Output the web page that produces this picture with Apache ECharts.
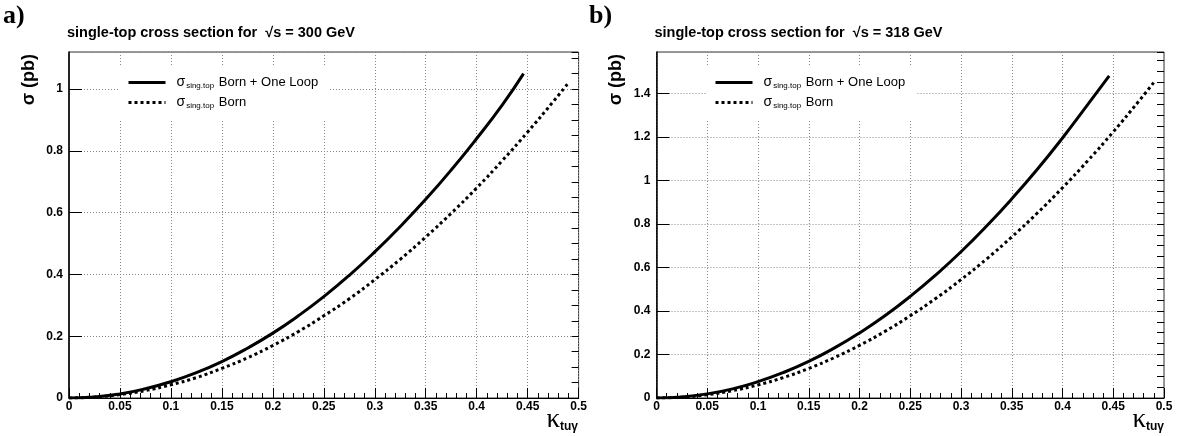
<!DOCTYPE html>
<html>
<head>
<meta charset="utf-8">
<script src="https://cdn.jsdelivr.net/npm/echarts@6/dist/echarts.min.js"></script>
<style>html,body{margin:0;padding:0;background:#fff;}#c{width:1184px;height:436px;}</style>
</head>
<body>
<div id="c"></div>
<script>
// ---- data ----
const kappaLoop = [0, 0.025, 0.05, 0.075, 0.1, 0.125, 0.15, 0.175, 0.2, 0.225, 0.25, 0.275, 0.3, 0.325, 0.35, 0.375, 0.4, 0.425, 0.446];
const kappaBorn = [0, 0.025, 0.05, 0.075, 0.1, 0.125, 0.15, 0.175, 0.2, 0.225, 0.25, 0.275, 0.3, 0.325, 0.35, 0.375, 0.4, 0.425, 0.45, 0.475, 0.49];
const loop300 = [0, 0.003, 0.013, 0.030, 0.053, 0.082, 0.118, 0.161, 0.21, 0.266, 0.328, 0.397, 0.473, 0.555, 0.643, 0.738, 0.84, 0.948, 1.05];
const born300 = [0, 0.003, 0.011, 0.024, 0.043, 0.066, 0.096, 0.130, 0.170, 0.215, 0.266, 0.321, 0.383, 0.449, 0.521, 0.598, 0.680, 0.768, 0.861, 0.959, 1.02];
const loop318 = [0, 0.005, 0.019, 0.042, 0.075, 0.117, 0.168, 0.229, 0.299, 0.378, 0.467, 0.565, 0.672, 0.789, 0.915, 1.05, 1.195, 1.349, 1.48];
const born318 = [0, 0.004, 0.015, 0.034, 0.060, 0.094, 0.136, 0.185, 0.242, 0.306, 0.378, 0.457, 0.544, 0.638, 0.740, 0.849, 0.966, 1.091, 1.223, 1.363, 1.45];
const panelLabels = ['a)', 'b)'];
const panelTitles = ['single-top cross section for  \u221As = 300 GeV', 'single-top cross section for  \u221As = 318 GeV'];
const yMax = [1.12, 1.59];
const legendNames = ['loop', 'born'];
const legendTexts = {loop: 'Born + One Loop', born: 'Born'};

function pairs(xs, ys) { return xs.map((x, i) => [x, ys[i]]); }

const chart = echarts.init(document.getElementById('c'), null, {renderer: 'canvas'});
const sans = 'Liberation Sans';
const gridLeft = [69, 656.5], gridWidth = [509.6, 507.5];
const legLeft = [120, 707];

const grids = [], xAxes = [], yAxes = [], series = [], legends = [], titles = [], graphics = [];
for (let p = 0; p < 2; p++) {
  grids.push({left: gridLeft[p], top: 52, width: gridWidth[p], height: 346, show: true,
    borderColor: '#333', borderWidth: 1, backgroundColor: 'transparent'});
  xAxes.push({type: 'value', gridIndex: p, min: 0, max: 0.5, interval: 0.05,
    axisLine: {show: true, lineStyle: {color: '#000', width: 1.2}},
    axisTick: {show: true, inside: true, length: 10, lineStyle: {color: '#000', width: 1}},
    minorTick: {show: true, splitNumber: 5, length: 5, lineStyle: {color: '#000', width: 1}},
    splitLine: {show: true, lineStyle: {color: '#888', type: [1, 2], width: 1}},
    axisLabel: {fontFamily: sans, fontWeight: 'bold', fontSize: 12, color: '#000', margin: 3}
  });
  yAxes.push({type: 'value', gridIndex: p, min: 0, max: yMax[p], interval: 0.2,
    axisLine: {show: true, lineStyle: {color: '#000', width: 1.5}},
    axisTick: {show: true, inside: true, length: 13, lineStyle: {color: '#000', width: 1}},
    splitLine: {show: true, lineStyle: {color: '#888', type: [1, 2], width: 1}},
    axisLabel: {fontFamily: sans, fontWeight: 'bold', fontSize: 12, color: '#000', margin: 6, showMaxLabel: false}
  });
  yAxes.push({type: 'value', gridIndex: p, min: 0, max: yMax[p], interval: 0.05,
    axisLine: {show: false}, axisLabel: {show: false}, splitLine: {show: false},
    axisTick: {show: true, inside: true, length: 7, lineStyle: {color: '#000', width: 1}}
  });
  const loop = p === 0 ? loop300 : loop318;
  const born = p === 0 ? born300 : born318;
  series.push({name: 'loop', type: 'line', xAxisIndex: p, yAxisIndex: 2 * p, smooth: true, symbol: 'none',
    data: pairs(kappaLoop, loop), lineStyle: {color: '#000', width: 3}, itemStyle: {color: '#000'}, z: 3});
  series.push({name: 'born', type: 'line', xAxisIndex: p, yAxisIndex: 2 * p, smooth: true, symbol: 'none',
    data: pairs(kappaBorn, born), lineStyle: {color: '#000', width: 3, type: [3, 3]}, itemStyle: {color: '#000'}, z: 3});
  legends.push({data: legendNames, orient: 'vertical', left: legLeft[p], top: 67,
    padding: [8, 11, 9, 7], itemGap: 5, itemWidth: 37, itemHeight: 14, backgroundColor: '#fff',
    selectedMode: false,
    itemStyle: {color: 'rgba(0,0,0,0)', borderColor: 'rgba(0,0,0,0)', borderWidth: 0},
    lineStyle: {color: '#000', width: 3},
    formatter: n => '{s|\u03C3}{sub|sing.top}{t| ' + legendTexts[n] + '}',
    textStyle: {color: '#000', rich: {
      s: {fontFamily: sans, fontSize: 14, lineHeight: 16, padding: [0, 0, 0, 6], verticalAlign: 'middle'},
      sub: {fontFamily: sans, fontSize: 8, lineHeight: 16, padding: [7, 1, 0, 1], verticalAlign: 'middle'},
      t: {fontFamily: sans, fontSize: 13, lineHeight: 16, verticalAlign: 'middle'}
    }}
  });
  titles.push({text: panelTitles[p], left: gridLeft[p] - 7, top: 20,
    textStyle: {fontFamily: sans, fontWeight: 'bold', fontSize: 14.5, color: '#000'}});
  titles.push({text: panelLabels[p], left: -2 + 586 * p, top: -2,
    textStyle: {fontFamily: 'Liberation Serif', fontWeight: 'bold', fontSize: 26, color: '#000'}});
  graphics.push({type: 'text', left: 20 + 587 * p, top: 54, rotation: Math.PI / 2,
    style: {text: '\u03C3 (pb)', font: 'bold 18px "Liberation Sans"', fill: '#000'}});
  graphics.push({type: 'text', right: (p === 0 ? 1184 - 578 : 1184 - 1164), top: 406,
    style: {text: '{k|\u03BA}{b|tu\u03B3}', fill: '#000', rich: {
      k: {fontFamily: 'Liberation Serif', fontSize: 27, lineHeight: 26, verticalAlign: 'bottom'},
      b: {fontFamily: sans, fontWeight: 'bold', fontSize: 12, lineHeight: 26, padding: [12, 0, 0, 0], verticalAlign: 'bottom'}
    }}});
}

chart.setOption({
  animation: false,
  backgroundColor: '#fff',
  title: titles,
  grid: grids,
  xAxis: xAxes,
  yAxis: yAxes,
  legend: legends,
  series: series,
  graphic: graphics
});
</script>
</body>
</html>
